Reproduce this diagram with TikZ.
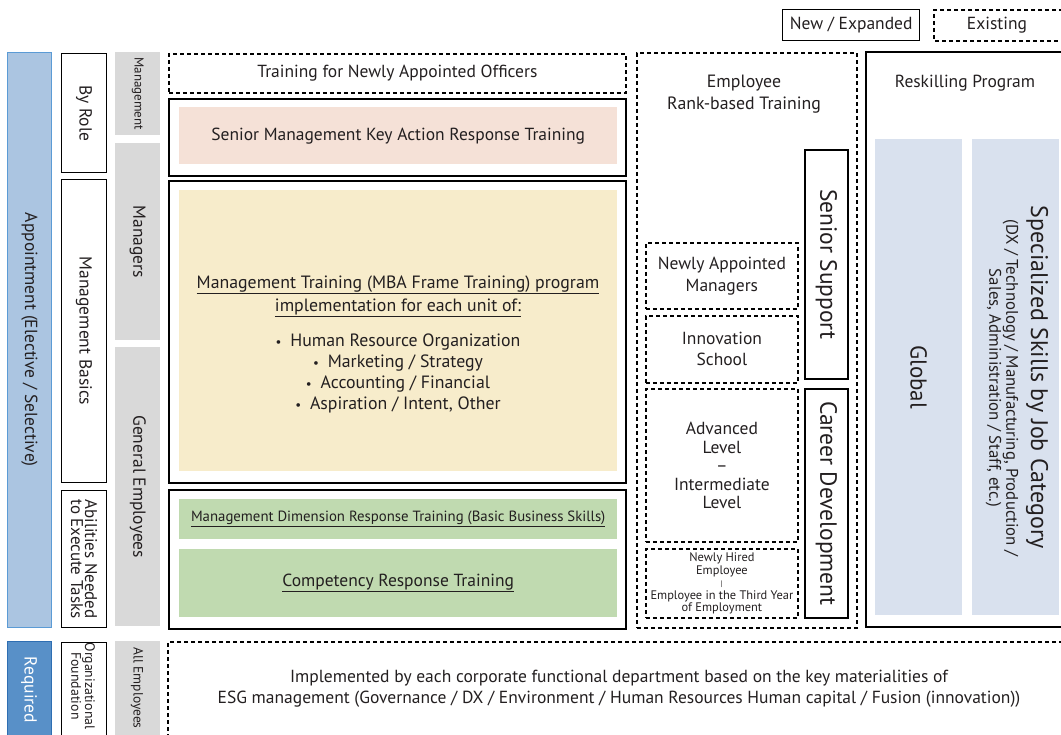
\documentclass[tikz,border=0pt]{standalone}
\usepackage{fontspec}
\setmainfont{PT Sans}
\usetikzlibrary{positioning}
\definecolor{apptblue}{RGB}{171,197,225}
\definecolor{apptline}{RGB}{91,155,213}
\definecolor{reqblue}{RGB}{88,144,200}
\definecolor{reqline}{RGB}{46,110,178}
\definecolor{rolegray}{RGB}{217,217,217}
\definecolor{pinkfill}{RGB}{245,225,215}
\definecolor{yellowfill}{RGB}{247,236,203}
\definecolor{greenfill}{RGB}{192,218,176}
\definecolor{panelblue}{RGB}{217,225,238}
\definecolor{inkgray}{RGB}{35,31,32}

\newcommand{\bulletdot}{{\fontsize{13}{13}\selectfont•}\enspace}

\tikzset{
  sz/.style 2 args={minimum width=#1pt, minimum height=#2pt},
  sbox/.style={draw=black, line width=1.8pt, anchor=north west, inner sep=0pt},
  dbox/.style={sbox, dash pattern=on 4pt off 3pt},
  thinbox/.style={draw=black, line width=1.1pt, anchor=north west, inner sep=0pt},
  panel/.style={anchor=north west, inner sep=0pt},
  vtext/.style={rotate=-90, align=center, text=inkgray},
  htext/.style={align=center, text=inkgray},
  sline/.style={draw=black, line width=1.8pt},
  dline/.style={sline, dash pattern=on 4pt off 3pt},
}

\begin{document}
\begin{tikzpicture}[x=1pt, y=-1pt, font=\fontsize{17.5}{21}\selectfont]
\useasboundingbox (0,0) rectangle (1061,735);

% legend
\node[sbox, line width=1.3pt, sz={137}{31}] (lnew) at (782,9) {};
\node[htext] (lnewt) at (lnew.center) {New / Expanded};
\draw[dline, line width=1.3pt] (1070,10) -| (934,41) -- (1070,41);
\node[htext] (loldt) at (997,25) {Existing};

% left columns
\node[panel, fill=apptblue, draw=apptline, line width=0.8pt, sz={44}{575}] (appt) at (7,52) {};
\node[vtext] (apptt) at (appt.center) {Appointment (Elective / Selective)};
\node[panel, fill=reqblue, draw=reqline, line width=1.2pt, sz={44}{100}] (req) at (7,641) {};
\node[vtext, text=white] (reqt) at (29,690) {Required};

\node[thinbox, sz={45}{119}] (byrole) at (61,53) {};
\node[vtext] (byrolet) at (byrole.center) {By Role};
\node[thinbox, sz={45}{303}] (basics) at (61,179) {};
\node[vtext] (basicst) at (basics.center) {Management Basics};
\node[thinbox, sz={45}{137}] (abil) at (61,490) {};
\node[vtext, font=\fontsize{17}{14}\selectfont] (abilt) at (abil.center) {Abilities Needed\\to Execute Tasks};
\node[thinbox, sz={45}{100}] (orgf) at (61,642) {};
\node[vtext, font=\fontsize{13.8}{11.5}\selectfont] (orgft) at (83,686) {Organizational\\Foundation};

\node[panel, fill=rolegray, sz={45}{83}] (gmgmt) at (115,52) {};
\node[vtext, font=\fontsize{13}{14}\selectfont] (gmgmtt) at (gmgmt.center) {Management};
\node[panel, fill=rolegray, sz={45}{197}] (gmgr) at (115,143) {};
\node[vtext] (gmgrt) at (gmgr.center) {Managers};
\node[panel, fill=rolegray, sz={45}{279}] (gemp) at (115,347) {};
\node[vtext] (gempt) at (gemp.center) {General Employees};
\node[panel, fill=rolegray, sz={45}{100}] (gall) at (115,641) {};
\node[vtext, font=\fontsize{13.5}{14}\selectfont] (gallt) at (137,688) {All Employees};

% training blocks
\node[dbox, sz={457}{39}] (officers) at (168,53) {};
\node[htext] (officerst) at (officers.center) {Training for Newly Appointed Officers};

\node[sbox, sz={457}{77}] (senior) at (168,98) {};
\node[panel, fill=pinkfill, sz={438}{57}] (pink) at (179,107) {};
\node[htext] (pinkt) at (pink.center) {Senior Management Key Action Response Training};

\node[sbox, sz={457}{302}] (mba) at (168,180) {};
\node[panel, fill=yellowfill, sz={438}{281}] (yellow) at (179,190) {};
\node[htext, font=\fontsize{17.8}{23}\selectfont] (mbahead) at (398,296) {\underline{Management Training (MBA Frame Training) program}\\\underline{implementation for each unit of:}};
\node[htext, font=\fontsize{17.8}{21}\selectfont] (mbalist) at (398,373) {\bulletdot Human Resource Organization\\\bulletdot Marketing / Strategy\\\bulletdot Accounting / Financial\\\bulletdot Aspiration / Intent, Other};

\node[sbox, sz={457}{139}] (basic) at (168,489) {};
\node[panel, fill=greenfill, sz={438}{40}] (green1) at (179,499) {};
\node[htext, font=\fontsize{14.8}{17}\selectfont] (green1t) at (green1.center) {\underline{Management Dimension Response Training (Basic Business Skills)}};
\node[panel, fill=greenfill, sz={438}{68}] (green2) at (179,549) {};
\node[htext] (green2t) at (green2.center) {\underline{Competency Response Training}};

% rank-based column
\node[dbox, sz={220}{575}] (rank) at (636,52) {};
\node[htext, font=\fontsize{17.8}{22}\selectfont] (rankt) at (744,94) {Employee\\Rank-based Training};
\node[sbox, sz={43}{229}] (ssup) at (804,149) {};
\node[vtext, font=\fontsize{23.5}{26}\selectfont] (ssupt) at (ssup.center) {Senior Support};
\node[sbox, sz={43}{229}] (career) at (804,388) {};
\node[vtext, font=\fontsize{23.5}{26}\selectfont] (careert) at (career.center) {Career Development};

\node[dbox, sz={152}{66}] (nam) at (645,242) {};
\node[htext, font=\fontsize{17.5}{22}\selectfont] (namt) at (nam.center) {Newly Appointed\\Managers};
\node[dbox, sz={152}{67}] (innov) at (645,315) {};
\node[htext, font=\fontsize{17.5}{21}\selectfont] (innovt) at (innov.center) {Innovation\\School};
\node[dbox, sz={152}{153}] (adv) at (645,388) {};
\node[htext, font=\fontsize{17.5}{18.5}\selectfont] (advt) at (adv.center) {Advanced\\Level\\–\\Intermediate\\Level};
\node[dbox, sz={152}{69}] (hired) at (645,548) {};
\node[htext, font=\fontsize{12.4}{12.5}\selectfont] (hiredt) at (hired.center) {Newly Hired\\Employee\\{\fontsize{8}{8}\selectfont|}\\Employee in the Third Year\\of Employment};

% reskilling
\draw[sline] (1070,52) -| (866,627) -- (1070,627);
\node[htext] (reskillt) at (965,83) {Reskilling Program};
\node[panel, fill=panelblue, sz={87}{476}] (global) at (875,139) {};
\node[vtext, font=\fontsize{23}{26}\selectfont] (globalt) at (global.center) {Global};
\node[panel, fill=panelblue, sz={87}{476}] (special) at (972,139) {};
\node[vtext, font=\fontsize{24}{26}\selectfont] (specialt) at (1037,377) {Specialized Skills by Job Category};
\node[vtext, font=\fontsize{16.8}{17}\selectfont] (specialsub) at (1002,388) {(DX / Technology / Manufacturing, Production /\\Sales, Administration / Staff, etc.)};

% organizational foundation
\draw[dline] (1070,642) -| (168,740);
\node[htext, font=\fontsize{17.5}{21}\selectfont] (esgt) at (619,689) {Implemented by each corporate functional department based on the key materialities of\\ESG management (Governance / DX / Environment / Human Resources Human capital / Fusion (innovation))};
\end{tikzpicture}
\end{document}
